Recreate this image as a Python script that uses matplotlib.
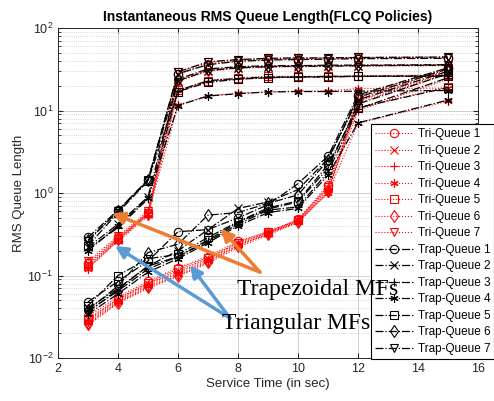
import numpy as np
import matplotlib
matplotlib.use("Agg")
import matplotlib.pyplot as plt

plt.rcParams['font.family'] = ['Liberation Sans', 'DejaVu Sans']

x_vals = [3, 4, 5, 6, 7, 8, 9, 10, 11, 12, 15]
queue_names = ['Queue 1', 'Queue 2', 'Queue 3', 'Queue 4', 'Queue 5', 'Queue 6', 'Queue 7']
markers = ['o', 'x', '+', (6, 2, 0), 's', 'd', 'v']

# first scenario (queues build up after t=5)
tri_upper = [
    [0.14, 0.29, 0.58, 27.5, 37.0, 40.0, 41.5, 42.0, 42.5, 43.0, 43.5],
    [0.13, 0.27, 0.55, 22.5, 30.0, 32.5, 33.5, 34.0, 34.5, 34.5, 35.0],
    [0.125, 0.26, 0.53, 17.0, 22.5, 24.0, 25.0, 25.5, 25.5, 26.0, 26.0],
    [0.12, 0.27, 0.55, 11.7, 15.2, 16.2, 16.8, 17.2, 17.3, 18.5, 18.7],
    [0.13, 0.28, 0.57, 17.7, 23.0, 25.0, 26.0, 26.0, 26.0, 26.5, 27.0],
    [0.14, 0.28, 0.56, 23.5, 31.0, 33.5, 34.5, 35.0, 35.0, 35.5, 35.5],
    [0.15, 0.30, 0.60, 29.0, 38.5, 41.0, 42.5, 43.0, 43.5, 44.0, 44.8],
]
trap_upper = [
    [0.29, 0.62, 1.45, 28.0, 36.0, 39.5, 41.0, 41.5, 42.0, 42.5, 43.0],
    [0.22, 0.42, 0.90, 23.0, 30.5, 33.0, 34.0, 34.5, 34.5, 35.0, 35.5],
    [0.21, 0.38, 0.85, 17.5, 23.0, 24.5, 25.5, 25.5, 26.0, 26.0, 26.5],
    [0.20, 0.40, 0.88, 11.5, 15.0, 16.0, 16.8, 17.0, 17.0, 17.2, 17.5],
    [0.23, 0.58, 1.40, 17.0, 22.0, 24.0, 25.0, 25.5, 25.5, 26.0, 26.0],
    [0.27, 0.60, 1.42, 24.0, 32.0, 34.0, 35.0, 35.0, 35.5, 35.5, 36.0],
    [0.26, 0.61, 1.44, 29.5, 39.0, 41.5, 43.0, 43.5, 43.5, 44.0, 44.5],
]
# second scenario (queues build up after t=11)
tri_lower = [
    [0.032, 0.055, 0.085, 0.125, 0.17, 0.26, 0.34, 0.48, 1.25, 15.0, 32.5],
    [0.030, 0.052, 0.080, 0.115, 0.16, 0.25, 0.33, 0.47, 1.15, 13.0, 29.0],
    [0.028, 0.050, 0.078, 0.110, 0.155, 0.24, 0.33, 0.46, 1.10, 10.0, 24.0],
    [0.027, 0.048, 0.075, 0.105, 0.15, 0.23, 0.32, 0.45, 1.00, 7.0, 13.0],
    [0.029, 0.052, 0.082, 0.120, 0.165, 0.25, 0.34, 0.47, 1.20, 10.8, 19.5],
    [0.026, 0.047, 0.072, 0.100, 0.145, 0.23, 0.32, 0.45, 1.05, 14.0, 31.0],
    [0.025, 0.046, 0.070, 0.098, 0.140, 0.22, 0.31, 0.44, 1.00, 12.5, 28.0],
]
trap_lower = [
    [0.048, 0.085, 0.15, 0.34, 0.36, 0.50, 0.72, 1.30, 2.8, 15.5, 33.0],
    [0.040, 0.070, 0.13, 0.20, 0.36, 0.65, 0.78, 1.10, 2.6, 13.5, 30.0],
    [0.037, 0.065, 0.12, 0.17, 0.26, 0.42, 0.62, 0.68, 1.8, 10.5, 25.0],
    [0.034, 0.060, 0.11, 0.16, 0.25, 0.40, 0.58, 0.65, 1.65, 7.1, 13.4],
    [0.043, 0.100, 0.16, 0.18, 0.29, 0.45, 0.66, 0.80, 2.2, 10.8, 19.0],
    [0.038, 0.075, 0.19, 0.24, 0.54, 0.58, 0.75, 0.95, 2.5, 14.5, 32.0],
    [0.036, 0.068, 0.13, 0.17, 0.27, 0.44, 0.64, 0.78, 2.0, 12.0, 28.0],
]

fig = plt.figure(figsize=(4.94, 4.01), dpi=100)
ax = fig.add_axes([0.1174, 0.1072, 0.8502, 0.8228])

tri_kw = dict(color='red', ls=':', lw=0.8, ms=6, mfc='none', mew=0.8)
trap_kw = dict(color='black', ls='-.', lw=0.9, ms=6, mfc='none', mew=0.8)

handles = []
for i in range(7):
    h, = ax.plot(x_vals, tri_upper[i], marker=markers[i], label='Tri-' + queue_names[i], **tri_kw)
    ax.plot(x_vals, tri_lower[i], marker=markers[i], **tri_kw)
    handles.append(h)
for i in range(7):
    h, = ax.plot(x_vals, trap_upper[i], marker=markers[i], label='Trap-' + queue_names[i], **trap_kw)
    ax.plot(x_vals, trap_lower[i], marker=markers[i], **trap_kw)
    handles.append(h)

ax.set_yscale('log')
ax.set_xlim(2, 16)
ax.set_ylim(1e-2, 1e2)
ax.set_xticks(range(2, 17, 2))
ax.grid(True, which='major', color='#d0d0d0', lw=0.7, ls='-')
ax.grid(True, which='minor', axis='y', color='#c8c8c8', lw=0.6, ls=':')
ax.set_axisbelow(True)
ax.tick_params(which='both', direction='in', top=True, right=True, labelsize=9, colors='#262626')
for s in ax.spines.values():
    s.set_color('#262626')
    s.set_linewidth(0.7)

ax.set_title('Instantaneous RMS Queue Length(FLCQ Policies)', fontsize=10, fontweight='bold', pad=5)
ax.set_xlabel('Service Time (in sec)', fontsize=9.5, color='#262626', labelpad=2)
ax.set_ylabel('RMS Queue Length', fontsize=9.5, color='#262626', labelpad=2)

leg = ax.legend(handles=handles, loc='upper left', bbox_to_anchor=(0.751, 0.69),
                bbox_transform=fig.transFigure,
                fontsize=8.5, frameon=True, fancybox=False, edgecolor='black', framealpha=1,
                handlelength=3.2, handletextpad=0.4, labelspacing=0.38, borderpad=0.35,
                borderaxespad=0)
leg.get_frame().set_linewidth(0.8)
leg.set_zorder(5)

# annotations
orange = '#ED7D31'
blue = '#5B9BD5'
arr_o = dict(arrowstyle='-|>', color=orange, lw=2.5, mutation_scale=18, shrinkA=0, shrinkB=0)
arr_b = dict(arrowstyle='-|>', color=blue, lw=2.5, mutation_scale=18, shrinkA=0, shrinkB=0)
ax.annotate('', xy=(3.8, 0.57), xytext=(8.73, 0.11), arrowprops=arr_o)
ax.annotate('', xy=(7.43, 0.37), xytext=(8.73, 0.11), arrowprops=arr_o)
ax.annotate('', xy=(3.9, 0.228), xytext=(7.73, 0.0305), arrowprops=arr_b)
ax.annotate('', xy=(6.4, 0.134), xytext=(7.73, 0.0305), arrowprops=arr_b)
ax.text(7.97, 0.0686, 'Trapezoidal MFs', family='Liberation Serif', fontsize=17,
        va='center', ha='left', zorder=10)
ax.text(7.47, 0.0265, 'Triangular MFs', family='Liberation Serif', fontsize=17,
        va='center', ha='left', zorder=10)

fig.savefig('out.png', dpi=100)
